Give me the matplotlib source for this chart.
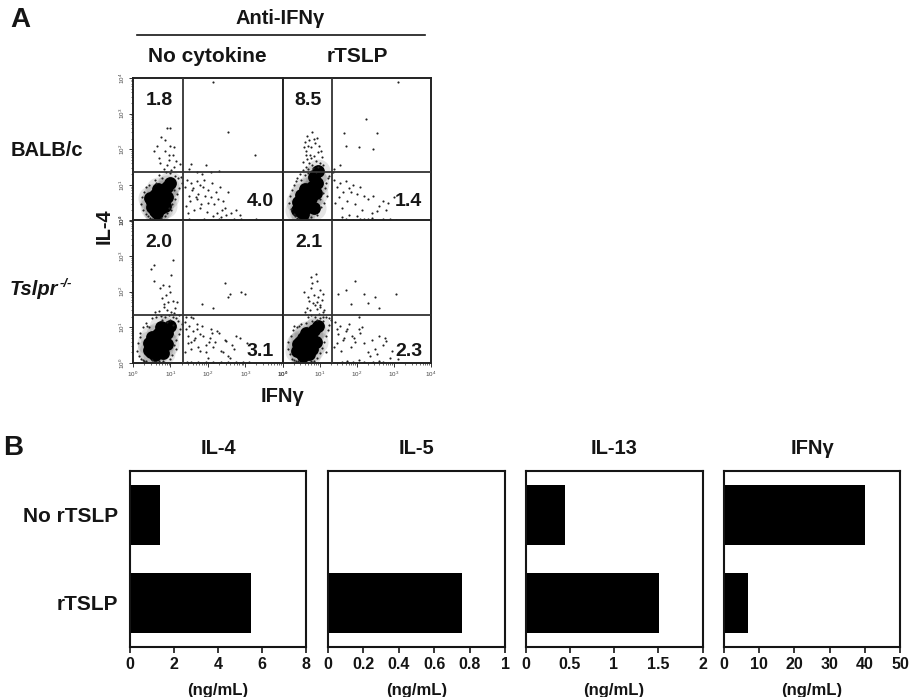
import matplotlib
matplotlib.use("Agg")
import numpy as np
import matplotlib.pyplot as plt
from matplotlib.lines import Line2D

plt.rcParams['font.family'] = ['Liberation Sans', 'DejaVu Sans']
plt.rcParams['mathtext.fontset'] = 'custom'
plt.rcParams['mathtext.rm'] = 'Liberation Sans'
plt.rcParams['mathtext.bf'] = 'Liberation Sans:bold'
plt.rcParams['mathtext.it'] = 'Liberation Sans:italic'

# ---------- Panel B data ----------
conditions = ["No rTSLP", "rTSLP"]
il4 = [1.35, 5.5]
il5 = [0.0, 0.755]
il13 = [0.45, 1.51]
ifng = [40.0, 6.7]
il4_ticks = [0, 2, 4, 6, 8]
il5_ticks = [0, 0.2, 0.4, 0.6, 0.8, 1]
il13_ticks = [0, 0.5, 1, 1.5, 2]
ifng_ticks = [0, 10, 20, 30, 40, 50]

# ---------- Panel A data (log10 fluorescence, read by eye) ----------
pct_labels = [["1.8", "4.0"], ["8.5", "1.4"], ["2.0", "3.1"], ["2.1", "2.3"]]

core1_x = [.60, .74, .52, .80, .58, .84, .68, .92, .90, 1.00, .50, .64, .72, .46, .86]
core1_y = [.28, .36, .52, .55, .72, .80, .88, .95, .66, 1.04, .38, .20, .62, .62, .42]
dots1_x = [.22, .28, .34, .25, .40, .30, .45, .36, .52, .44,
           .95, 1.05, 1.12, 1.18, 1.24, 1.30, 1.02, 1.10, .92, 1.20,
           .85, .75, .62, .78, 1.12, 1.28, .98, .88, .70, .58,
           .82, .92, 1.02, .95, 1.10, .72, 1.06, .86, .98, 1.15,
           .75, .65, .85, .95, 1.00, 1.10, .55, .70, 1.25, .90,
           2.55, 3.27, 2.15, 1.50, 1.70, 1.95, 2.10, 1.55, 1.85, 2.30,
           1.40, 1.45, 1.50, 1.55, 1.60, 1.70, 1.75, 1.80, 1.90, 2.00,
           1.42, 1.52, 1.62, 1.72, 1.82, 1.92, 2.02, 2.12, 2.22, 2.32,
           1.48, 1.58, 1.68, 1.78, 1.88, 1.98, 2.08, 2.18, 2.28, 2.38,
           2.45, 2.55, 2.62, 2.75, 2.85, 2.40, 2.50, 2.35, 2.25, 2.15,
           1.50, 1.70, 1.90, 2.10, 2.30, 2.50, 2.70, 2.90, 3.10, 3.30]
dots1_y = [.45, .30, .18, .65, .12, .80, .06, .95, .05, 1.00,
           .35, .45, .60, .75, .90, 1.05, .30, .85, .20, 1.18,
           .12, .06, 1.05, 1.20, 1.25, 1.22, 1.32, 1.35, 1.28, 1.15,
           1.45, 1.55, 1.42, 1.70, 1.50, 1.62, 1.85, 1.95, 2.10, 1.68,
           2.35, 2.10, 2.25, 1.85, 2.60, 2.05, 1.95, 1.75, 1.60, 2.60,
           2.48, 1.83, 3.90, 1.45, 1.35, 1.55, 1.35, 1.60, 1.30, 1.40,
           .95, 1.15, .70, 1.05, .90, 1.10, .75, 1.00, 1.15, .85,
           .40, .55, .30, .60, .45, .70, .50, 1.05, .80, .95,
           .20, .85, .65, .35, .95, .25, .65, .45, .60, .30,
           .35, .80, .20, .30, .15, .55, .15, .10, .22, .12,
           .03, .02, .04, .02, .03, .02, .04, .03, .02, .03]

core2_x = [.50, .64, .42, .68, .50, .74, .60, .80, .78, .92, .86, .95, .84, .55, .40, .90]
core2_y = [.28, .36, .52, .55, .72, .80, .88, .95, .62, 1.06, 1.22, 1.40, .34, .18, .30, .78]
dots2_x = [.18, .24, .30, .20, .34, .26, .40, .32, .44, .36,
           1.00, 1.08, 1.14, 1.18, 1.22, 1.26, 1.04, 1.12, .94, 1.20,
           .78, .68, .50, .60, .46, .56, .40, .72, .66, .62,
           .70, .80, .90, 1.00, 1.10, .62, .74, .86, .96, 1.06,
           .58, .68, .78, .88, .98, .72, .84, .94, .66, .80,
           .64, .76, .90, .70, .82, .95, .78, .60, 1.05, .55,
           1.65, 1.70, 2.25, 2.05, 2.55, 2.45, 3.10, 1.55, 1.40, 1.35,
           1.38, 1.46, 1.55, 1.62, 1.72, 1.80, 1.90, 2.00, 2.10, 2.20,
           1.42, 1.52, 1.60, 1.75, 1.85, 1.95, 2.15, 2.30, 2.45, 2.60,
           2.70, 2.85, 3.00, 2.55, 2.40, 2.80, 1.50, 1.70, 1.90, 2.10,
           2.30, 2.50, 2.70, 2.90, 3.05, 1.60, 1.80, 2.00, 2.20, 2.40]
dots2_y = [.50, .32, .18, .70, .12, .85, .07, 1.00, .05, 1.10,
           .60, .78, .92, 1.06, 1.18, 1.26, .38, .50, .15, .70,
           .10, .05, 1.15, 1.28, 1.30, 1.42, 1.20, 1.62, 1.72, 1.85,
           1.45, 1.55, 1.68, 1.62, 1.55, 1.95, 1.85, 1.82, 1.92, 1.78,
           2.05, 2.10, 2.05, 2.18, 2.10, 2.25, 2.30, 2.32, 2.38, 2.48,
           1.50, 1.38, 1.35, 1.32, 1.48, 1.50, 1.75, 2.20, 1.95, 1.65,
           2.45, 2.10, 2.85, 2.05, 2.45, 2.00, 3.90, 1.55, 1.45, 1.35,
           1.15, .95, 1.05, .80, 1.10, .90, 1.00, .75, .95, .70,
           .50, .65, .35, .55, .80, .45, .30, .60, .70, .40,
           .55, .50, .65, .28, .20, .30, .02, .03, .02, .04,
           .03, .02, .04, .03, .02, .10, .15, .12, .05, .08]

core3_x = [.48, .62, .42, .66, .50, .74, .84, .66, .90, .76, .92, .98, .60, .44, .80]
core3_y = [.30, .40, .55, .55, .72, .42, .62, .80, .85, 1.00, .52, 1.05, .22, .36, .28]
dots3_x = [.12, .16, .22, .14, .26, .20, .30, .18, .36, .28,
           1.10, 1.16, 1.22, 1.26, 1.30, 1.14, 1.20, 1.05, .98, 1.08,
           .80, .70, .58, .50, .44, .38, .34, .90, .78, 1.00,
           .86, .96, 1.06, 1.16, .76, 1.02, .92, 1.12, 1.24, .84,
           .70, .82, .94, 1.08, .78, .88, 1.00, 1.18, .60, .72,
           .55, .48, .62, .95, .56, .80, 1.02, 1.08, 1.10, .52,
           1.60, 2.45, 2.60, 2.90, 2.55, 3.00, 1.85, 2.15, 1.55, 1.42,
           1.38, 1.42, 1.46, 1.50, 1.55, 1.60, 1.65, 1.70, 1.75, 1.80,
           1.40, 1.48, 1.56, 1.64, 1.72, 1.80, 1.88, 1.96, 2.04, 2.12,
           1.85, 1.95, 2.05, 2.15, 2.25, 2.35, 2.45, 2.55, 2.65, 2.75,
           2.00, 2.20, 2.40, 2.60, 2.85, 3.05, 2.30, 2.10, 2.70, 2.50,
           1.55, 1.75, 1.95, 2.15, 2.35, 2.55, 2.75, 2.95, 3.10, 1.45]
dots3_y = [.35, .20, .12, .55, .08, .72, .06, .85, .05, 1.00,
           .50, .65, .80, .95, 1.10, .38, 1.18, .22, .12, 1.08,
           .06, .05, .03, .08, 1.02, 1.05, 1.12, 1.15, 1.20, 1.22,
           1.28, 1.35, 1.30, 1.25, 1.32, 1.42, 1.48, 1.55, 1.35, 1.58,
           1.45, 1.65, 1.72, 1.75, 1.82, 1.92, 1.98, 1.70, 1.42, 2.10,
           2.30, 2.65, 1.28, 2.15, 2.75, 2.20, 2.48, 2.90, 1.40, 1.25,
           1.25, 2.25, 1.95, 2.00, 1.85, 1.95, 1.65, 1.55, 1.28, 1.30,
           1.15, .95, .75, 1.05, .60, .90, .70, 1.10, .45, .80,
           .30, .55, .40, .65, .95, .35, .75, .50, .60, .85,
           1.05, .30, .70, .45, .90, .35, .65, .20, .50, .75,
           .15, .60, .30, .15, .70, .55, .85, .95, .40, .62,
           .03, .02, .04, .03, .02, .04, .02, .03, .02, .04]

core4_x = [.50, .64, .42, .70, .54, .78, .64, .84, .80, .96, .90, .56, .72, .40, .48]
core4_y = [.28, .38, .52, .52, .70, .72, .85, .92, .40, 1.05, .60, .20, .26, .34, .60]
dots4_x = [.14, .20, .26, .16, .30, .22, .36, .28, .42, .32,
           1.06, 1.12, 1.18, 1.22, 1.26, 1.30, 1.02, 1.10, .94, 1.16,
           .86, .76, .62, .50, .44, .38, .94, 1.00, 1.08, .80,
           .88, .98, 1.08, 1.18, 1.24, .78, .70, .92, 1.02, 1.12,
           .82, .92, 1.02, .72, .66, .86, .96, .58, .76, 1.06,
           .60, .74, .88, 1.00, .68, .80, .94, .78, .90, 1.10,
           1.50, 1.72, 1.85, 2.20, 2.30, 2.50, 2.60, 3.05, 1.95, 2.05,
           1.42, 1.46, 1.50, 1.55, 1.62, 1.70, 1.78, 1.86, 1.95, 2.05,
           1.40, 1.48, 1.58, 1.66, 1.75, 1.85, 1.92, 2.10, 2.20, 2.30,
           2.40, 2.50, 2.60, 2.70, 2.80, 2.95, 2.15, 2.35, 2.55, 2.75,
           1.60, 1.90, 2.20, 2.45, 2.70, 2.90, 3.10, 1.75, 2.05, 2.60]
dots4_y = [.40, .25, .12, .58, .08, .75, .06, .92, .05, 1.05,
           .42, .58, .75, .92, 1.08, 1.20, .28, 1.18, .14, .30,
           .07, .05, 1.12, 1.10, 1.05, 1.02, 1.22, 1.25, 1.30, 1.18,
           1.30, 1.38, 1.42, 1.30, 1.25, 1.35, 1.28, 1.52, 1.58, 1.48,
           1.68, 1.72, 1.62, 1.75, 1.55, 1.90, 1.85, 2.00, 2.10, 1.78,
           1.42, 1.50, 1.62, 2.05, 1.85, 2.25, 2.30, 2.40, 2.50, 1.95,
           1.95, 2.05, 1.65, 1.95, 1.68, 1.85, 1.55, 1.95, 2.30, 1.30,
           1.15, .95, .80, 1.05, .65, .90, 1.10, .75, .60, .95,
           .45, .55, .35, .70, .95, .45, .70, .85, .55, .30,
           .65, .40, .75, .50, .62, .35, 1.00, .20, .25, .70,
           .03, .02, .04, .03, .02, .15, .10, .05, .08, .05]

scatter_x = [dots1_x, dots2_x, dots3_x, dots4_x]
scatter_y = [dots1_y, dots2_y, dots3_y, dots4_y]
core_x = [core1_x, core2_x, core3_x, core4_x]
core_y = [core1_y, core2_y, core3_y, core4_y]

W, H = 909, 697
fig = plt.figure(figsize=(W / 100, H / 100), dpi=100, facecolor='white')
INK = '#151515'

def ax_px(l, t, r, b):
    return fig.add_axes([l / W, 1 - b / H, (r - l) / W, (b - t) / H])

def txt(x, y, s, size=14.5, **kw):
    kw.setdefault('ha', 'center')
    kw.setdefault('va', 'center')
    fig.text(x / W, 1 - y / H, s, fontsize=size, fontweight='bold', color=INK, **kw)

# ---------- Panel A ----------
cols = [(133, 282.5), (282.5, 431)]
rows = [(78, 220.5), (220.5, 363)]
gate_x, gate_y = 10 ** 1.34, 10 ** 1.36
boxes = [(cols[0], rows[0]), (cols[1], rows[0]), (cols[0], rows[1]), (cols[1], rows[1])]
for i, ((l, r), (t, b)) in enumerate(boxes):
    ax = ax_px(l, t, r, b)
    ax.set_xscale('log'); ax.set_yscale('log')
    ax.set_xlim(1, 1e4); ax.set_ylim(1, 1e4)
    cx, cy = 10 ** np.array(core_x[i]), 10 ** np.array(core_y[i])
    ax.scatter(cx, cy, s=300, c='k', alpha=0.10, lw=0, zorder=2)
    ax.scatter(cx, cy, s=85, c='k', lw=0, zorder=2)
    ax.scatter(10 ** np.array(scatter_x[i]), 10 ** np.array(scatter_y[i]), s=2.4, c='#222222', lw=0, zorder=2)
    ax.axvline(gate_x, color='#333333', lw=1.3, zorder=3)
    ax.axhline(gate_y, color='#333333', lw=1.3, zorder=3)
    for s in ax.spines.values():
        s.set_linewidth(1.4); s.set_color('#222222')
    show_left, show_bottom = i in (0, 2), i in (2, 3)
    ax.tick_params(which='major', length=3, width=0.7, color='#333333', labelsize=4.5, labelcolor='#444444',
                   left=show_left, labelleft=show_left, bottom=show_bottom, labelbottom=show_bottom, pad=1.5)
    ax.tick_params(which='minor', length=1.6, width=0.5, color='#333333',
                   left=show_left, labelleft=False, bottom=show_bottom, labelbottom=False)
    ax.set_xticks([1, 10, 100, 1000, 10000])
    ax.set_yticks([1, 10, 100, 1000, 10000])
    if show_left:
        for lab in ax.get_yticklabels():
            lab.set_rotation(90); lab.set_va('center')
    ax.text(0.175, 0.845, pct_labels[i][0], transform=ax.transAxes, ha='center', va='center',
            fontsize=14, fontweight='bold', color=INK, zorder=5)
    ax.text(0.85, 0.13 if i < 2 else 0.08, pct_labels[i][1], transform=ax.transAxes, ha='center', va='center',
            fontsize=14, fontweight='bold', color=INK, zorder=5)

txt(20, 20, 'A', size=20)
txt(280, 19, 'Anti-IFNγ')
fig.add_artist(Line2D([137 / W, 425 / W], [1 - 35 / H, 1 - 35 / H], color=INK, lw=1.2))
txt(207, 57, 'No cytokine', size=15)
txt(357, 57, 'rTSLP', size=15)
txt(47, 150, 'BALB/c')
txt(10, 290, 'Tslpr', ha='left', style='italic')
txt(60, 284, '-/-', size=9.5, ha='left', style='italic')
txt(104, 226, 'IL-4', rotation=90)
txt(282, 397, 'IFNγ')

# ---------- Panel B ----------
txt(13, 448, 'B', size=20)
panels = [(130, 306, il4, il4_ticks, 'IL-4'),
          (328, 505, il5, il5_ticks, 'IL-5'),
          (525.5, 702.5, il13, il13_ticks, 'IL-13'),
          (724, 900, ifng, ifng_ticks, 'IFNγ')]
for j, (l, r, vals, ticks, title) in enumerate(panels):
    ax = ax_px(l, 471, r, 647)
    ax.barh([0, 1], vals, height=0.69, color='black')
    ax.set_xlim(ticks[0], ticks[-1])
    ax.set_ylim(1.5, -0.5)
    ax.set_xticks(ticks)
    ax.set_xticklabels([str(t) for t in ticks], fontsize=11.5, fontweight='bold', color=INK)
    ax.tick_params(axis='x', length=4, width=1.2, color=INK, pad=3)
    if j == 0:
        ax.set_yticks([0, 1])
        ax.set_yticklabels(conditions, fontsize=15, fontweight='bold', color=INK)
        ax.tick_params(axis='y', length=0, pad=8.5)
    else:
        ax.set_yticks([])
    for s in ax.spines.values():
        s.set_linewidth(1.5); s.set_color(INK)
    txt((l + r) / 2, 448, title)
    txt((l + r) / 2, 690, '(ng/mL)', size=12)

fig.savefig('out.png', dpi=100)
